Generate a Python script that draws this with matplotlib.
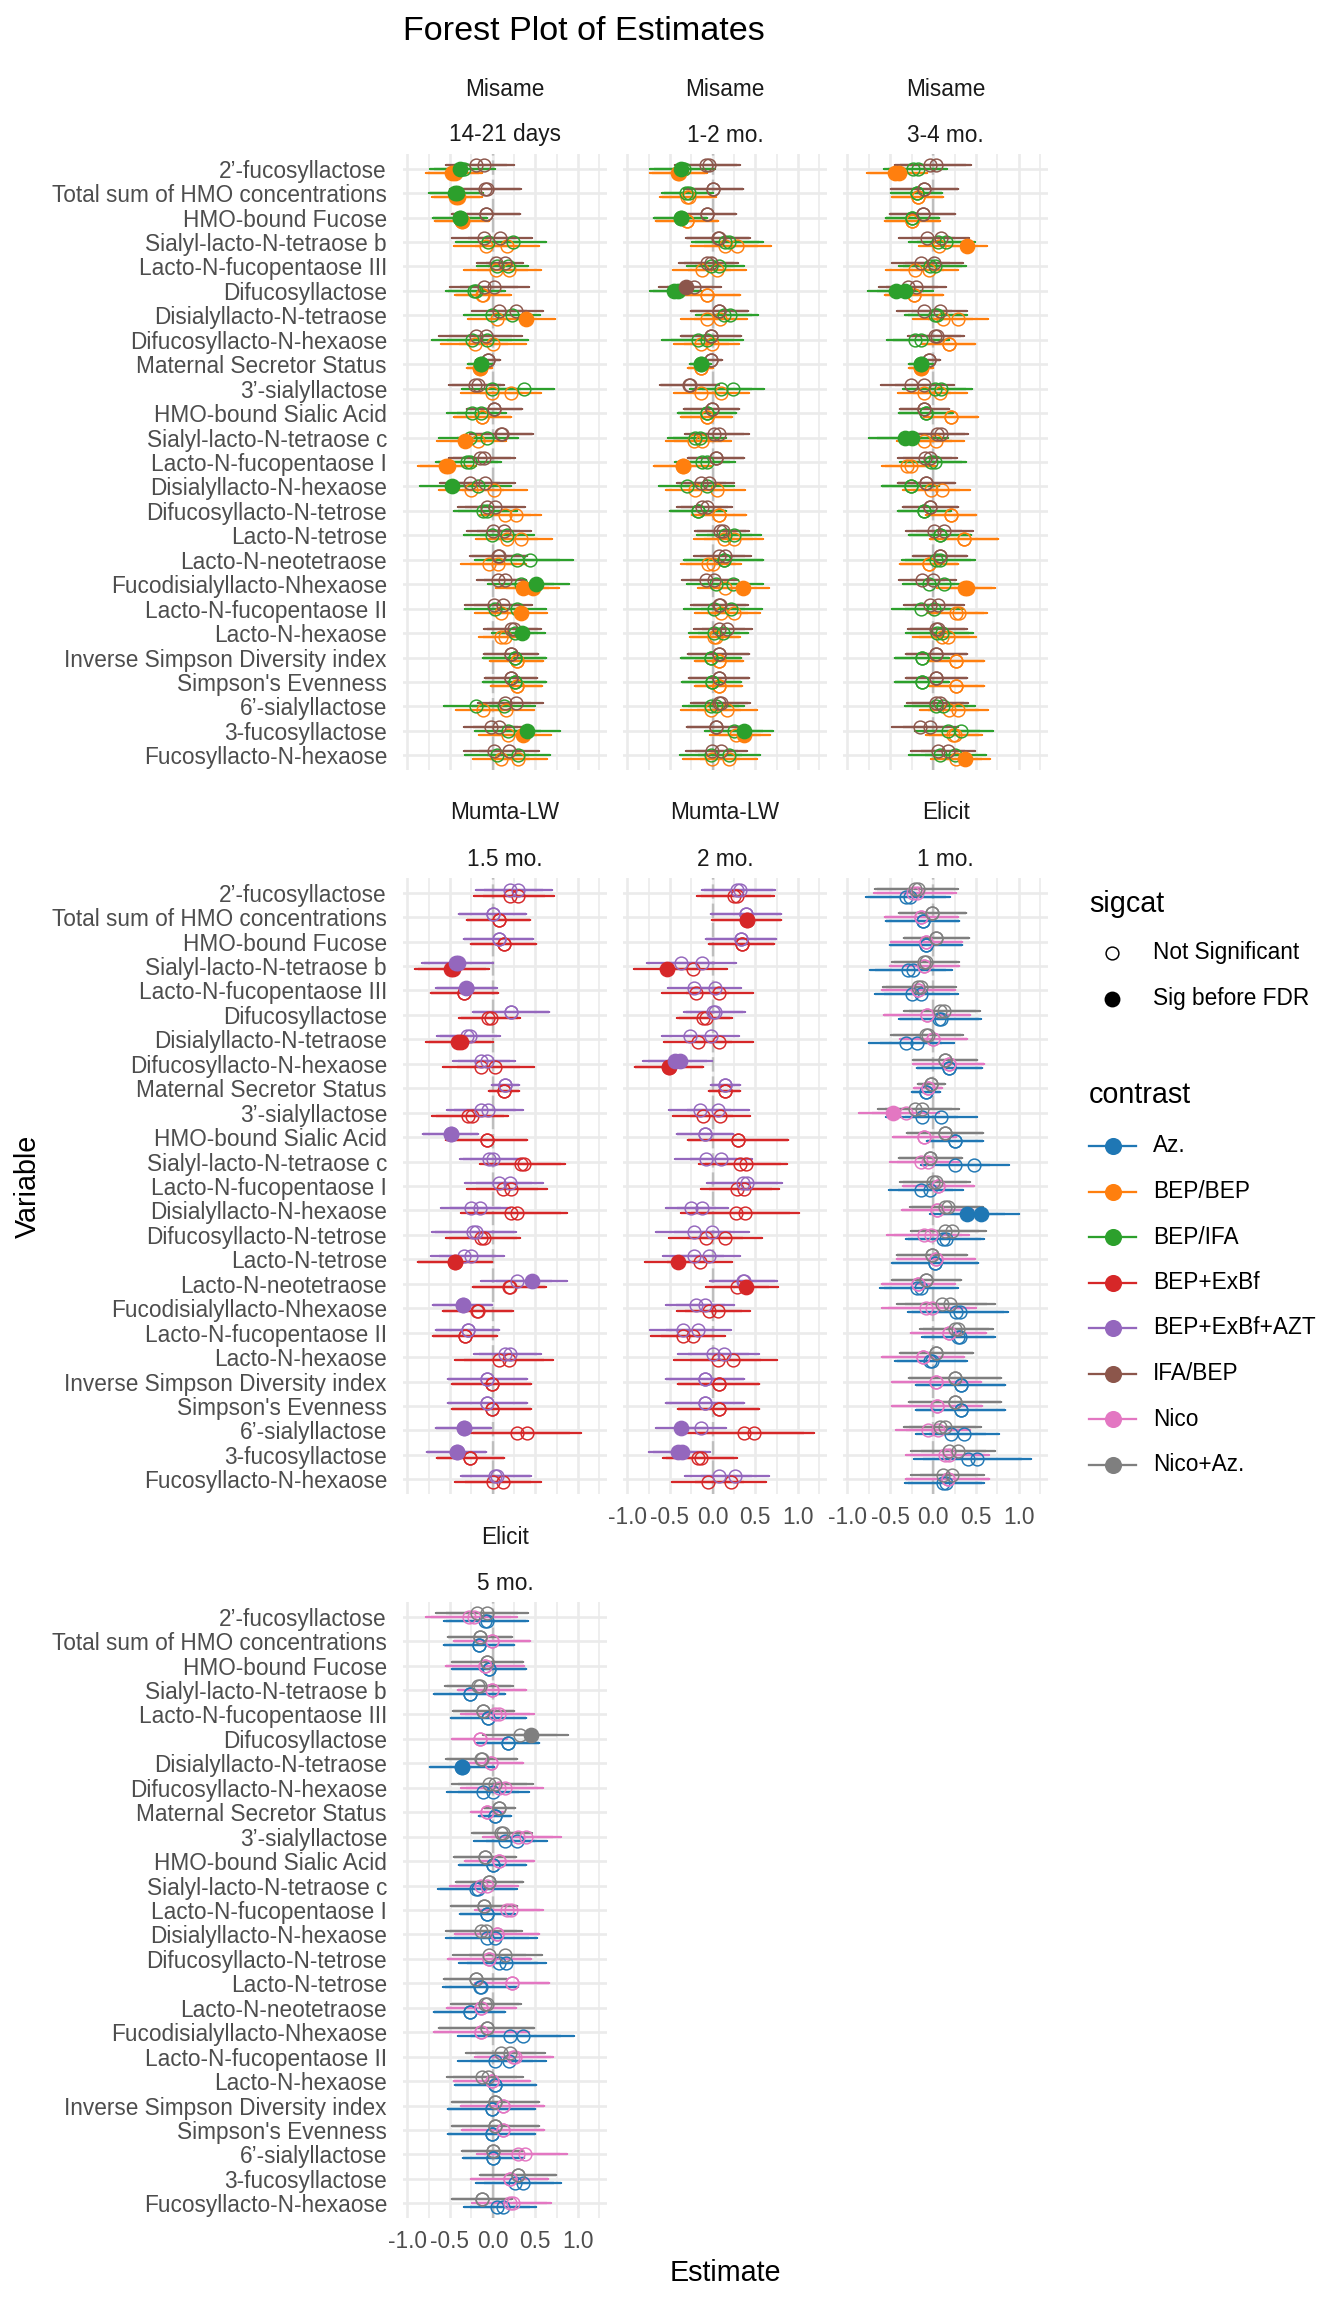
import numpy as np
import matplotlib.pyplot as plt

plt.rcParams['font.family'] = ['Liberation Sans', 'DejaVu Sans']
plt.rcParams['axes.unicode_minus'] = False

variables = ["2’-fucosyllactose", "Total sum of HMO concentrations", "HMO-bound Fucose",
             "Sialyl-lacto-N-tetraose b", "Lacto-N-fucopentaose III", "Difucosyllactose",
             "Disialyllacto-N-tetraose", "Difucosyllacto-N-hexaose", "Maternal Secretor Status",
             "3’-sialyllactose", "HMO-bound Sialic Acid", "Sialyl-lacto-N-tetraose c",
             "Lacto-N-fucopentaose I", "Disialyllacto-N-hexaose", "Difucosyllacto-N-tetrose",
             "Lacto-N-tetrose", "Lacto-N-neotetraose", "Fucodisialyllacto-Nhexaose",
             "Lacto-N-fucopentaose II", "Lacto-N-hexaose", "Inverse Simpson Diversity index",
             "Simpson's Evenness", "6’-sialyllactose", "3-fucosyllactose", "Fucosyllacto-N-hexaose"]

contrasts = ["Az.", "BEP/BEP", "BEP/IFA", "BEP+ExBf", "BEP+ExBf+AZT", "IFA/BEP", "Nico", "Nico+Az."]
colours = ["#1f77b4", "#ff7f0e", "#2ca02c", "#d62728", "#9467bd", "#8c564b", "#e377c2", "#7f7f7f"]
sig_levels = ["Not Significant", "Sig before FDR"]

# two estimates per contrast and variable (e1, e2), the overall CI span (lo, hi)
# sig code: 0 none, 1 first estimate, 2 second estimate, 3 both

# ---- Misame, 14-21 days
m1_bepbep_e1 = [-0.47,-0.43,-0.36,-0.08,0.04,-0.12,0.05,-0.21,-0.15,-0.01,-0.12,-0.32,-0.54,-0.25,0.15,0.17,-0.04,0.35,0.10,0.10,0.28,0.28,-0.11,0.18,0.10]
m1_bepbep_e2 = [-0.44,-0.40,-0.36,0.17,0.19,-0.11,0.39,0.00,-0.15,0.21,-0.12,-0.17,-0.52,0.02,0.27,0.33,0.06,0.47,0.33,0.15,0.28,0.28,0.16,0.35,0.30]
m1_bepbep_lo = [-0.79,-0.71,-0.67,-0.45,-0.33,-0.43,-0.27,-0.63,-0.30,-0.36,-0.44,-0.63,-0.88,-0.62,-0.14,-0.18,-0.39,0.04,-0.20,-0.15,-0.02,-0.01,-0.42,-0.15,-0.25]
m1_bepbep_hi = [-0.13,-0.12,-0.04,0.55,0.57,0.22,0.75,0.37,-0.01,0.57,0.22,0.17,-0.20,0.41,0.57,0.70,0.37,0.78,0.64,0.42,0.59,0.59,0.49,0.69,0.62]
m1_bepbep_sig = [3,3,3,0,0,0,2,0,3,0,0,1,3,0,0,0,0,3,2,0,0,0,0,2,0]
m1_bepifa_e1 = [-0.38,-0.44,-0.38,-0.05,0.05,-0.22,-0.01,-0.24,-0.14,-0.01,-0.24,-0.27,-0.30,-0.47,-0.11,-0.01,0.29,0.33,0.03,0.26,0.26,0.26,-0.20,0.18,0.05]
m1_bepifa_e2 = [-0.33,-0.42,-0.38,0.24,0.18,-0.19,0.23,-0.06,-0.14,0.37,-0.13,-0.06,-0.27,-0.17,-0.06,0.17,0.44,0.51,0.28,0.34,0.26,0.26,0.13,0.40,0.30]
m1_bepifa_lo = [-0.74,-0.76,-0.70,-0.43,-0.20,-0.58,-0.36,-0.73,-0.30,-0.31,-0.59,-0.62,-0.67,-0.83,-0.43,-0.35,-0.23,-0.04,-0.32,0.01,-0.11,-0.11,-0.55,-0.21,-0.35]
m1_bepifa_hi = [0.02,-0.12,-0.07,0.62,0.39,0.11,0.52,0.39,-0.01,0.76,0.10,0.30,0.09,0.23,0.30,0.47,0.92,0.91,0.63,0.63,0.63,0.63,0.52,0.78,0.64]
m1_bepifa_sig = [1,3,3,0,0,0,0,0,3,0,0,0,0,1,0,0,0,2,0,2,0,0,0,2,0]
m1_ifabep_e1 = [-0.19,-0.09,-0.08,-0.10,0.04,-0.10,0.08,-0.20,-0.05,-0.21,0.02,0.10,-0.15,-0.26,-0.06,0.01,0.06,0.06,0.02,0.22,0.22,0.22,0.14,-0.02,0.02]
m1_ifabep_e2 = [-0.10,-0.07,-0.08,0.09,0.14,0.02,0.27,-0.08,-0.05,-0.17,0.02,0.11,-0.10,-0.09,0.03,0.13,0.08,0.14,0.12,0.25,0.22,0.22,0.27,0.08,0.19]
m1_ifabep_lo = [-0.53,-0.51,-0.48,-0.45,-0.18,-0.46,-0.22,-0.65,-0.20,-0.53,-0.31,-0.26,-0.50,-0.60,-0.38,-0.30,-0.26,-0.20,-0.33,-0.11,-0.09,-0.08,-0.17,-0.36,-0.32]
m1_ifabep_hi = [0.27,0.32,0.32,0.49,0.36,0.46,0.61,0.32,0.08,0.12,0.34,0.47,0.27,0.27,0.41,0.45,0.41,0.37,0.45,0.55,0.54,0.53,0.59,0.37,0.55]
m1_ifabep_sig = [0] * 25

# ---- Misame, 1-2 mo.
m2_bepbep_e1 = [-0.41,-0.30,-0.30,0.14,-0.12,-0.06,-0.06,-0.13,-0.14,-0.13,-0.07,-0.22,-0.35,-0.21,0.07,0.13,-0.05,0.14,0.10,0.02,0.07,0.07,-0.02,0.27,-0.01]
m2_bepbep_e2 = [-0.39,-0.28,-0.30,0.29,0.05,-0.06,0.09,-0.01,-0.14,0.10,-0.07,-0.12,-0.35,0.05,0.07,0.25,0.01,0.35,0.25,0.04,0.07,0.07,0.17,0.37,0.19]
m2_bepbep_lo = [-0.74,-0.63,-0.65,-0.21,-0.45,-0.43,-0.35,-0.45,-0.30,-0.44,-0.37,-0.54,-0.67,-0.54,-0.24,-0.19,-0.35,-0.17,-0.21,-0.28,-0.21,-0.20,-0.35,-0.03,-0.35]
m2_bepbep_hi = [-0.08,0.02,0.07,0.72,0.40,0.32,0.42,0.31,-0.01,0.44,0.23,0.22,-0.01,0.38,0.39,0.62,0.35,0.67,0.56,0.31,0.35,0.35,0.55,0.67,0.52]
m2_bepbep_sig = [3,0,0,0,0,0,0,0,0,0,0,0,3,0,0,0,0,2,0,0,0,0,0,2,0]
m2_bepifa_e1 = [-0.37,-0.31,-0.37,0.15,-0.02,-0.45,0.13,-0.17,-0.14,0.10,-0.07,-0.21,-0.12,-0.30,-0.17,0.14,0.13,0.04,0.02,0.02,-0.02,-0.01,-0.02,0.25,-0.02]
m2_bepifa_e2 = [-0.33,-0.28,-0.37,0.19,0.08,-0.41,0.20,-0.07,-0.14,0.24,-0.07,-0.15,-0.06,-0.07,-0.17,0.25,0.13,0.24,0.22,0.12,-0.02,-0.01,0.04,0.37,0.19]
m2_bepifa_lo = [-0.72,-0.60,-0.68,-0.22,-0.31,-0.74,-0.19,-0.55,-0.31,-0.28,-0.38,-0.51,-0.41,-0.62,-0.50,-0.18,-0.33,-0.31,-0.34,-0.23,-0.37,-0.36,-0.37,-0.08,-0.39]
m2_bepifa_hi = [0.04,0.00,-0.06,0.61,0.36,-0.13,0.54,0.39,-0.07,0.59,0.30,0.17,0.29,0.26,0.15,0.57,0.60,0.58,0.58,0.46,0.33,0.33,0.35,0.72,0.54]
m2_bepifa_sig = [1,0,3,0,0,3,0,0,3,0,0,0,0,0,0,0,0,0,0,0,0,0,0,2,0]
m2_ifabep_e1 = [-0.08,0.01,-0.07,0.06,-0.07,-0.31,0.08,-0.02,-0.02,-0.28,-0.01,0.02,0.04,-0.13,-0.12,0.09,0.08,-0.08,0.07,0.08,0.07,0.07,0.08,0.04,-0.01]
m2_ifabep_e2 = [-0.04,0.01,-0.07,0.07,-0.02,-0.22,0.08,-0.02,-0.02,-0.26,-0.01,0.08,0.04,-0.04,-0.07,0.12,0.15,0.02,0.09,0.17,0.07,0.07,0.10,0.04,0.10]
m2_ifabep_lo = [-0.43,-0.35,-0.40,-0.32,-0.38,-0.62,-0.26,-0.37,-0.15,-0.60,-0.33,-0.33,-0.29,-0.43,-0.41,-0.20,-0.23,-0.36,-0.25,-0.23,-0.30,-0.29,-0.25,-0.32,-0.31]
m2_ifabep_hi = [0.33,0.35,0.28,0.43,0.31,0.10,0.40,0.33,0.12,0.10,0.31,0.42,0.36,0.23,0.23,0.43,0.44,0.30,0.41,0.45,0.42,0.41,0.44,0.37,0.41]
m2_ifabep_sig = [0,0,0,0,0,1,0,0,0,0,0,0,0,0,0,0,0,0,0,0,0,0,0,0,0]

# ---- Misame, 3-4 mo.
m3_bepbep_e1 = [-0.44,-0.18,-0.24,0.07,-0.21,-0.22,0.12,0.18,-0.14,-0.10,0.21,-0.10,-0.30,-0.02,0.21,0.36,-0.05,0.37,0.27,0.10,0.27,0.27,0.19,0.23,0.27]
m3_bepbep_e2 = [-0.40,-0.18,-0.24,0.40,-0.05,-0.22,0.29,0.18,-0.14,0.08,0.21,0.04,-0.26,0.10,0.21,0.36,-0.05,0.40,0.30,0.17,0.27,0.27,0.29,0.26,0.37]
m3_bepbep_lo = [-0.78,-0.48,-0.56,0.00,-0.53,-0.57,-0.22,-0.12,-0.30,-0.39,-0.10,-0.37,-0.60,-0.31,-0.06,-0.02,-0.38,0.05,-0.05,-0.24,-0.06,-0.05,-0.13,-0.08,0.01]
m3_bepbep_hi = [-0.08,0.12,0.09,0.79,0.31,0.10,0.65,0.49,-0.01,0.41,0.53,0.41,0.04,0.47,0.53,0.77,0.29,0.72,0.63,0.50,0.59,0.59,0.66,0.57,0.70]
m3_bepbep_sig = [3,0,0,2,0,0,0,0,3,0,0,0,0,0,0,0,0,3,0,0,0,0,0,0,2]
m3_bepifa_e1 = [-0.23,-0.19,-0.24,0.06,-0.03,-0.43,0.02,-0.21,-0.14,0.02,-0.08,-0.33,-0.02,-0.26,-0.10,0.08,0.04,-0.05,-0.14,0.05,-0.13,-0.13,0.04,0.17,0.08]
m3_bepifa_e2 = [-0.18,-0.19,-0.24,0.15,0.02,-0.33,0.05,-0.14,-0.14,0.09,-0.08,-0.24,0.02,-0.26,-0.10,0.08,0.08,0.13,0.01,0.10,-0.13,-0.13,0.12,0.32,0.26]
m3_bepifa_lo = [-0.58,-0.50,-0.54,-0.26,-0.38,-0.78,-0.32,-0.53,-0.30,-0.35,-0.40,-0.62,-0.37,-0.58,-0.42,-0.31,-0.38,-0.37,-0.48,-0.33,-0.46,-0.46,-0.31,-0.21,-0.26]
m3_bepifa_hi = [0.15,0.10,0.08,0.51,0.40,-0.03,0.40,0.19,-0.01,0.45,0.23,0.29,0.39,0.08,0.20,0.41,0.47,0.42,0.35,0.46,0.17,0.17,0.50,0.70,0.63]
m3_bepifa_sig = [0,0,0,0,0,3,0,0,3,0,0,3,0,0,0,0,0,0,0,0,0,0,0,0,0]
m3_ifabep_e1 = [-0.03,-0.10,-0.12,-0.07,-0.14,-0.29,-0.10,0.02,-0.05,-0.26,-0.10,0.05,-0.09,-0.08,-0.03,0.01,0.08,-0.13,-0.04,0.04,0.04,0.04,0.03,-0.15,0.06]
m3_ifabep_e2 = [0.03,-0.10,-0.12,0.09,0.01,-0.20,0.08,0.05,-0.05,-0.10,-0.10,0.09,-0.04,-0.08,-0.03,0.13,0.08,0.00,0.06,0.06,0.04,0.04,0.08,-0.03,0.17]
m3_ifabep_lo = [-0.41,-0.49,-0.50,-0.35,-0.45,-0.64,-0.38,-0.28,-0.19,-0.58,-0.40,-0.25,-0.42,-0.42,-0.34,-0.31,-0.25,-0.37,-0.31,-0.30,-0.31,-0.30,-0.28,-0.47,-0.25]
m3_ifabep_hi = [0.47,0.28,0.26,0.47,0.38,0.14,0.44,0.37,0.08,0.27,0.18,0.43,0.26,0.24,0.30,0.47,0.37,0.29,0.38,0.38,0.40,0.40,0.43,0.30,0.49]
m3_ifabep_sig = [0] * 25

# ---- Mumta-LW, 1.5 mo.
u1_exbf_e1 = [0.20,0.07,0.13,-0.49,-0.33,-0.05,-0.40,-0.13,0.13,-0.29,-0.07,0.33,0.12,0.21,-0.13,-0.44,0.19,-0.18,-0.32,0.08,-0.01,-0.01,0.28,-0.26,0.00]
u1_exbf_e2 = [0.30,0.07,0.13,-0.46,-0.33,-0.02,-0.37,0.03,0.13,-0.24,-0.07,0.37,0.22,0.29,-0.10,-0.44,0.20,-0.17,-0.32,0.19,-0.01,-0.01,0.40,-0.26,0.12]
u1_exbf_lo = [-0.22,-0.31,-0.25,-0.90,-0.71,-0.39,-0.81,-0.53,-0.04,-0.73,-0.54,-0.15,-0.29,-0.35,-0.55,-0.87,-0.25,-0.59,-0.68,-0.39,-0.47,-0.47,-0.30,-0.66,-0.39]
u1_exbf_hi = [0.71,0.42,0.51,-0.04,0.07,0.33,-0.02,0.53,0.31,0.16,0.40,0.84,0.64,0.90,0.31,-0.01,0.61,0.23,0.07,0.76,0.45,0.45,1.08,0.12,0.62]
u1_exbf_sig = [0,0,0,3,0,0,3,0,0,0,0,0,0,0,0,3,0,0,0,0,0,0,0,0,0]
u1_azt_e1 = [0.20,0.00,0.07,-0.43,-0.31,0.21,-0.30,-0.13,0.15,-0.13,-0.49,-0.04,0.07,-0.25,-0.23,-0.34,0.28,-0.35,-0.29,0.15,-0.06,-0.06,-0.34,-0.42,0.03]
u1_azt_e2 = [0.30,0.00,0.07,-0.40,-0.30,0.21,-0.26,-0.07,0.15,-0.05,-0.49,0.00,0.20,-0.15,-0.20,-0.25,0.46,-0.35,-0.29,0.20,-0.06,-0.06,-0.34,-0.42,0.05]
u1_azt_lo = [-0.20,-0.39,-0.33,-0.84,-0.67,-0.25,-0.66,-0.47,-0.01,-0.54,-0.82,-0.39,-0.32,-0.62,-0.72,-0.73,-0.13,-0.70,-0.66,-0.19,-0.52,-0.52,-0.66,-0.77,-0.37]
u1_azt_hi = [0.69,0.39,0.47,-0.01,0.05,0.64,0.08,0.26,0.31,0.34,-0.18,0.34,0.60,0.18,0.26,0.12,0.88,-0.01,0.08,0.59,0.41,0.41,-0.01,-0.08,0.46]
u1_azt_sig = [0,0,0,3,1,0,0,0,0,0,3,0,0,0,0,0,2,3,0,0,0,0,3,3,0]

# ---- Mumta-LW, 2 mo.
u2_exbf_e1 = [0.25,0.40,0.34,-0.53,-0.20,-0.11,-0.17,-0.51,0.14,-0.11,0.30,0.32,0.28,0.27,-0.08,-0.41,0.29,-0.04,-0.35,0.06,0.07,0.07,0.37,-0.17,-0.05]
u2_exbf_e2 = [0.29,0.40,0.34,-0.23,0.08,-0.08,0.08,-0.51,0.14,0.09,0.30,0.39,0.37,0.38,0.14,-0.15,0.39,0.06,-0.23,0.24,0.07,0.07,0.49,-0.13,0.21]
u2_exbf_lo = [-0.16,-0.01,-0.04,-0.94,-0.60,-0.41,-0.57,-0.90,-0.03,-0.45,-0.29,-0.15,-0.13,-0.30,-0.55,-0.80,-0.08,-0.43,-0.73,-0.42,-0.42,-0.42,-0.29,-0.58,-0.43]
u2_exbf_hi = [0.74,0.80,0.72,0.15,0.47,0.24,0.47,-0.10,0.33,0.45,0.88,0.88,0.78,1.08,0.54,0.22,0.76,0.43,0.14,0.78,0.53,0.53,1.23,0.29,0.67]
u2_exbf_sig = [0,3,0,1,0,0,0,3,0,0,0,0,0,0,0,1,2,0,0,0,0,0,0,0,0]
u2_azt_e1 = [0.29,0.39,0.33,-0.37,-0.22,0.01,-0.27,-0.44,0.15,-0.15,-0.09,-0.08,0.35,-0.25,-0.22,-0.22,0.35,-0.20,-0.35,0.01,-0.09,-0.09,-0.37,-0.41,0.07]
u2_azt_e2 = [0.32,0.39,0.33,-0.12,0.03,0.03,-0.02,-0.38,0.15,0.06,-0.09,0.10,0.40,-0.12,-0.01,-0.04,0.37,-0.09,-0.17,0.13,-0.09,-0.09,-0.13,-0.36,0.26]
u2_azt_lo = [-0.11,-0.01,-0.08,-0.78,-0.53,-0.33,-0.61,-0.86,-0.01,-0.51,-0.42,-0.44,-0.05,-0.53,-0.71,-0.60,-0.04,-0.53,-0.72,-0.43,-0.55,-0.55,-0.65,-0.74,-0.35]
u2_azt_hi = [0.75,0.80,0.74,0.26,0.33,0.38,0.29,-0.05,0.32,0.42,0.23,0.46,0.83,0.19,0.38,0.29,0.75,0.26,0.22,0.52,0.36,0.36,0.17,-0.02,0.63]
u2_azt_sig = [0,0,0,0,0,0,0,3,0,0,0,0,0,0,0,0,0,0,0,0,0,0,1,3,0]

# ---- Elicit, 1 mo.
e1_az_e1 = [-0.32,-0.12,-0.08,-0.29,-0.24,0.07,-0.32,0.19,-0.08,-0.13,0.26,0.26,-0.14,0.40,0.12,0.02,-0.19,0.27,0.29,-0.03,0.32,0.32,0.21,0.41,0.12]
e1_az_e2 = [-0.27,-0.12,-0.08,-0.23,-0.14,0.09,-0.19,0.19,-0.08,0.09,0.26,0.48,-0.03,0.56,0.15,0.02,-0.14,0.31,0.31,-0.01,0.32,0.32,0.36,0.51,0.15]
e1_az_lo = [-0.79,-0.53,-0.49,-0.71,-0.66,-0.41,-0.75,-0.19,-0.25,-0.53,0.00,-0.06,-0.51,0.00,-0.32,-0.46,-0.61,-0.28,-0.10,-0.44,-0.20,-0.20,-0.17,-0.18,-0.31]
e1_az_hi = [0.19,0.32,0.35,0.24,0.31,0.55,0.24,0.56,0.07,0.53,0.65,0.96,0.35,1.04,0.59,0.54,0.30,0.88,0.75,0.40,0.83,0.83,0.80,1.18,0.61]
e1_az_sig = [0,0,0,0,0,0,0,0,0,0,0,0,0,3,0,0,0,0,0,0,0,0,0,0,0]
e1_nico_e1 = [-0.23,-0.14,-0.08,-0.10,-0.17,-0.07,0.00,0.18,-0.06,-0.47,-0.10,-0.14,0.06,0.05,-0.10,0.03,-0.17,-0.08,0.18,-0.12,0.04,0.05,-0.06,0.14,0.17]
e1_nico_e2 = [-0.19,-0.14,-0.08,-0.10,-0.17,-0.07,0.00,0.18,-0.06,-0.32,-0.10,-0.06,0.06,0.05,-0.02,0.03,-0.17,-0.01,0.18,-0.12,0.04,0.05,0.06,0.19,0.17]
e1_nico_lo = [-0.66,-0.57,-0.51,-0.51,-0.60,-0.49,-0.41,-0.21,-0.21,-0.88,-0.50,-0.49,-0.37,-0.29,-0.50,-0.41,-0.55,-0.60,-0.24,-0.48,-0.47,-0.48,-0.42,-0.32,-0.31]
e1_nico_hi = [0.30,0.28,0.32,0.29,0.24,0.51,0.37,0.61,0.11,0.05,0.24,0.31,0.46,0.53,0.46,0.50,0.29,0.50,0.63,0.47,0.57,0.57,0.44,0.65,0.66]
e1_nico_sig = [0,0,0,0,0,0,0,0,0,1,0,0,0,0,0,0,0,0,0,0,0,0,0,0,0]
e1_nicoaz_e1 = [-0.21,-0.01,0.04,-0.10,-0.17,0.08,-0.08,0.14,-0.02,-0.21,0.14,-0.03,0.00,0.14,0.14,-0.01,-0.08,0.10,0.25,0.04,0.26,0.26,0.08,0.18,0.12]
e1_nicoaz_e2 = [-0.18,-0.01,0.04,-0.08,-0.14,0.13,-0.06,0.14,-0.02,-0.13,0.14,-0.03,0.04,0.17,0.22,-0.01,-0.08,0.20,0.29,0.04,0.26,0.26,0.14,0.29,0.22]
e1_nicoaz_lo = [-0.71,-0.41,-0.34,-0.48,-0.59,-0.32,-0.50,-0.26,-0.18,-0.63,-0.30,-0.39,-0.40,-0.26,-0.24,-0.41,-0.50,-0.44,-0.19,-0.41,-0.27,-0.27,-0.32,-0.27,-0.26]
e1_nicoaz_hi = [0.26,0.37,0.42,0.30,0.26,0.56,0.33,0.48,0.13,0.31,0.58,0.35,0.42,0.59,0.63,0.41,0.30,0.71,0.66,0.45,0.80,0.80,0.58,0.71,0.59]
e1_nicoaz_sig = [0] * 25

# ---- Elicit, 5 mo.
e5_az_e1 = [-0.09,-0.16,-0.04,-0.27,-0.05,0.18,-0.36,-0.11,0.03,0.14,0.00,-0.19,-0.06,-0.06,0.07,-0.15,-0.27,0.20,0.03,0.03,-0.01,-0.01,0.01,0.26,0.05]
e5_az_e2 = [-0.07,-0.16,-0.04,-0.27,-0.05,0.18,-0.36,0.01,0.03,0.28,0.00,-0.17,-0.06,0.03,0.16,-0.13,-0.27,0.35,0.19,0.03,-0.01,-0.01,0.01,0.35,0.12]
e5_az_lo = [-0.59,-0.57,-0.47,-0.68,-0.49,-0.17,-0.71,-0.50,-0.17,-0.20,-0.39,-0.65,-0.39,-0.52,-0.39,-0.58,-0.69,-0.35,-0.40,-0.43,-0.52,-0.52,-0.34,-0.17,-0.31]
e5_az_hi = [0.39,0.24,0.39,0.15,0.39,0.55,0.04,0.46,0.21,0.65,0.40,0.27,0.25,0.54,0.63,0.30,0.15,1.00,0.64,0.52,0.50,0.50,0.37,0.83,0.54]
e5_az_sig = [0,0,0,0,0,0,3,0,0,0,0,0,0,0,0,0,0,0,0,0,0,0,0,0,0]
e5_nico_e1 = [-0.28,-0.01,-0.09,-0.01,0.03,-0.15,-0.02,0.08,-0.06,0.30,0.08,-0.13,0.17,0.05,-0.04,0.23,-0.13,-0.13,0.24,-0.01,0.12,0.12,0.30,0.20,0.20]
e5_nico_e2 = [-0.22,-0.01,-0.09,-0.01,0.08,-0.15,-0.02,0.14,-0.06,0.39,0.08,-0.07,0.21,0.05,-0.04,0.23,-0.13,-0.13,0.26,-0.01,0.12,0.12,0.38,0.20,0.24]
e5_nico_lo = [-0.75,-0.47,-0.54,-0.42,-0.38,-0.48,-0.40,-0.33,-0.26,-0.11,-0.32,-0.46,-0.22,-0.45,-0.46,-0.20,-0.53,-0.69,-0.20,-0.46,-0.37,-0.37,-0.20,-0.25,-0.23]
e5_nico_hi = [0.31,0.42,0.37,0.37,0.48,0.16,0.36,0.63,0.12,0.80,0.48,0.33,0.58,0.53,0.51,0.67,0.28,0.42,0.71,0.43,0.60,0.59,0.85,0.65,0.69]
e5_nico_sig = [0] * 25
e5_nicoaz_e1 = [-0.18,-0.15,-0.06,-0.17,-0.11,0.32,-0.13,-0.04,0.08,0.10,-0.09,-0.04,-0.10,-0.13,-0.04,-0.20,-0.09,-0.07,0.10,-0.12,0.03,0.03,0.00,0.30,-0.12]
e5_nicoaz_e2 = [-0.07,-0.15,-0.06,-0.15,-0.11,0.45,-0.12,0.03,0.08,0.12,-0.09,-0.04,-0.10,-0.08,0.15,-0.20,-0.07,-0.07,0.20,-0.05,0.03,0.03,0.00,0.30,-0.12]
e5_nicoaz_lo = [-0.67,-0.52,-0.47,-0.56,-0.46,-0.12,-0.55,-0.46,-0.11,-0.23,-0.46,-0.43,-0.49,-0.57,-0.43,-0.59,-0.49,-0.63,-0.29,-0.56,-0.49,-0.49,-0.37,-0.15,-0.48]
e5_nicoaz_hi = [0.40,0.23,0.36,0.23,0.25,0.87,0.28,0.49,0.26,0.48,0.27,0.35,0.28,0.32,0.61,0.15,0.33,0.49,0.63,0.33,0.53,0.53,0.35,0.74,0.22]
e5_nicoaz_sig = [0,0,0,0,0,2,0,0,0,0,0,0,0,0,0,0,0,0,0,0,0,0,0,0,0]

panels = [
    ("Misame", "14-21 days", [("BEP/BEP", m1_bepbep_e1, m1_bepbep_e2, m1_bepbep_lo, m1_bepbep_hi, m1_bepbep_sig),
                              ("BEP/IFA", m1_bepifa_e1, m1_bepifa_e2, m1_bepifa_lo, m1_bepifa_hi, m1_bepifa_sig),
                              ("IFA/BEP", m1_ifabep_e1, m1_ifabep_e2, m1_ifabep_lo, m1_ifabep_hi, m1_ifabep_sig)]),
    ("Misame", "1-2 mo.", [("BEP/BEP", m2_bepbep_e1, m2_bepbep_e2, m2_bepbep_lo, m2_bepbep_hi, m2_bepbep_sig),
                           ("BEP/IFA", m2_bepifa_e1, m2_bepifa_e2, m2_bepifa_lo, m2_bepifa_hi, m2_bepifa_sig),
                           ("IFA/BEP", m2_ifabep_e1, m2_ifabep_e2, m2_ifabep_lo, m2_ifabep_hi, m2_ifabep_sig)]),
    ("Misame", "3-4 mo.", [("BEP/BEP", m3_bepbep_e1, m3_bepbep_e2, m3_bepbep_lo, m3_bepbep_hi, m3_bepbep_sig),
                           ("BEP/IFA", m3_bepifa_e1, m3_bepifa_e2, m3_bepifa_lo, m3_bepifa_hi, m3_bepifa_sig),
                           ("IFA/BEP", m3_ifabep_e1, m3_ifabep_e2, m3_ifabep_lo, m3_ifabep_hi, m3_ifabep_sig)]),
    ("Mumta-LW", "1.5 mo.", [("BEP+ExBf", u1_exbf_e1, u1_exbf_e2, u1_exbf_lo, u1_exbf_hi, u1_exbf_sig),
                             ("BEP+ExBf+AZT", u1_azt_e1, u1_azt_e2, u1_azt_lo, u1_azt_hi, u1_azt_sig)]),
    ("Mumta-LW", "2 mo.", [("BEP+ExBf", u2_exbf_e1, u2_exbf_e2, u2_exbf_lo, u2_exbf_hi, u2_exbf_sig),
                           ("BEP+ExBf+AZT", u2_azt_e1, u2_azt_e2, u2_azt_lo, u2_azt_hi, u2_azt_sig)]),
    ("Elicit", "1 mo.", [("Az.", e1_az_e1, e1_az_e2, e1_az_lo, e1_az_hi, e1_az_sig),
                         ("Nico", e1_nico_e1, e1_nico_e2, e1_nico_lo, e1_nico_hi, e1_nico_sig),
                         ("Nico+Az.", e1_nicoaz_e1, e1_nicoaz_e2, e1_nicoaz_lo, e1_nicoaz_hi, e1_nicoaz_sig)]),
    ("Elicit", "5 mo.", [("Az.", e5_az_e1, e5_az_e2, e5_az_lo, e5_az_hi, e5_az_sig),
                         ("Nico", e5_nico_e1, e5_nico_e2, e5_nico_lo, e5_nico_hi, e5_nico_sig),
                         ("Nico+Az.", e5_nicoaz_e1, e5_nicoaz_e2, e5_nicoaz_lo, e5_nicoaz_hi, e5_nicoaz_sig)]),
]

colour_of = dict(zip(contrasts, colours))

# layout in pixels of the 1344x2304 canvas
W, H = 1344, 2304
col_x = [(403, 607), (623, 827), (843, 1048)]
row_y = [(154, 770), (878, 1494), (1602, 2218)]
dodge = 0.48
ypos = np.arange(len(variables), 0, -1)

all_lo = min(min(s[3]) for p in panels for s in p[2])
all_hi = max(max(s[4]) for p in panels for s in p[2])
span = all_hi - all_lo
xlim = (all_lo - 0.05 * span, all_hi + 0.05 * span)

fig = plt.figure(figsize=(7, 12), dpi=192)

def px_axes(x0, x1, y0, y1):
    return fig.add_axes([x0 / W, 1 - y1 / H, (x1 - x0) / W, (y1 - y0) / H])

for k, (study, time, series) in enumerate(panels):
    r, c = divmod(k, 3)
    x0, x1 = col_x[c]
    y0, y1 = row_y[r]
    ax = px_axes(x0, x1, y0, y1)
    ax.set_xlim(*xlim)
    ax.set_ylim(0.4, len(variables) + 0.6)
    ax.set_xticks([-1.0, -0.5, 0.0, 0.5, 1.0])
    ax.set_xticks([-0.75, -0.25, 0.25, 0.75, 1.25], minor=True)
    ax.set_yticks(ypos)
    ax.grid(True, which='major', color='#EBEBEB', linewidth=1.0, zorder=0)
    ax.grid(True, which='minor', axis='x', color='#EBEBEB', linewidth=0.6, zorder=0)
    ax.set_axisbelow(True)
    for s in ax.spines.values():
        s.set_visible(False)
    ax.tick_params(which='both', length=0)
    ax.tick_params(axis='y', pad=6, labelsize=8.5, labelcolor='#4D4D4D')
    ax.tick_params(axis='x', pad=4.5, labelsize=8.5, labelcolor='#4D4D4D')
    if c == 0:
        ax.set_yticklabels(variables)
    else:
        ax.set_yticklabels([])
    bottom = (k + 3 >= len(panels))
    if bottom:
        ax.set_xticklabels(["%.1f" % v for v in [-1.0, -0.5, 0.0, 0.5, 1.0]])
    else:
        ax.set_xticklabels([])

    ax.axvline(0, color='#BEBEBE', linewidth=0.9, dashes=(6, 2), zorder=1.5)

    n = len(series)
    for i, (name, e1, e2, lo, hi, sig) in enumerate(series):
        col = colour_of[name]
        e1 = np.array(e1); e2 = np.array(e2)
        lo = np.array(lo); hi = np.array(hi)
        sig = np.array(sig)
        y = ypos + (i - (n - 1) / 2) * dodge / n
        half = np.maximum(((hi - lo) - np.abs(e2 - e1)) / 2, 0.02)
        for e in (e1, e2):
            ax.errorbar(e, y, xerr=half, fmt='none', ecolor=col, elinewidth=0.85,
                        capsize=0.5, capthick=0.8, zorder=2)
        for bit, e in ((1, e1), (2, e2)):
            filled = (sig & bit) > 0
            ax.plot(e[~filled], y[~filled], 'o', ms=4.8, mfc='none', mec=col, mew=0.55,
                    linestyle='none', zorder=3)
            ax.plot(e[filled], y[filled], 'o', ms=5.4, mfc=col, mec=col, mew=0.5,
                    linestyle='none', zorder=4)

    fig.text((x0 + x1) / 2 / W, 1 - (y0 - 65) / H, study, ha='center', va='center',
             fontsize=8.5, color='#1A1A1A')
    fig.text((x0 + x1) / 2 / W, 1 - (y0 - 19) / H, time, ha='center', va='center',
             fontsize=8.5, color='#1A1A1A')

fig.text(403 / W, 1 - 32 / H, "Forest Plot of Estimates", ha='left', va='center', fontsize=12.8)
fig.text((403 + 1048) / 2 / W, 1 - 2273 / H, "Estimate", ha='center', va='center', fontsize=10.8)
fig.text(28 / W, 1 - 1186 / H, "Variable", ha='center', va='center', rotation=90, fontsize=10.8)

# legends, drawn on an overlay in pixel units
lg = fig.add_axes([0, 0, 1, 1])
lg.set_xlim(0, W)
lg.set_ylim(H, 0)
lg.axis('off')
lg.text(1089, 904, "sigcat", ha='left', va='center', fontsize=10.8)
for j, lab in enumerate(sig_levels):
    yy = 953 + j * 45.5
    lg.plot([1112], [yy], 'o', ms=5.4 if j else 4.8, mfc='black' if j else 'none',
            mec='black', mew=0.55)
    lg.text(1153, yy, lab, ha='left', va='center', fontsize=8.5)
lg.text(1089, 1095, "contrast", ha='left', va='center', fontsize=10.8)
for j, (lab, col) in enumerate(zip(contrasts, colours)):
    yy = 1146 + j * 45.5
    lg.plot([1089, 1136], [yy, yy], color=col, linewidth=0.85)
    lg.plot([1112.5], [yy], 'o', ms=5.4, color=col)
    lg.text(1153, yy, lab, ha='left', va='center', fontsize=8.5)

fig.savefig("out.png", dpi=192)
